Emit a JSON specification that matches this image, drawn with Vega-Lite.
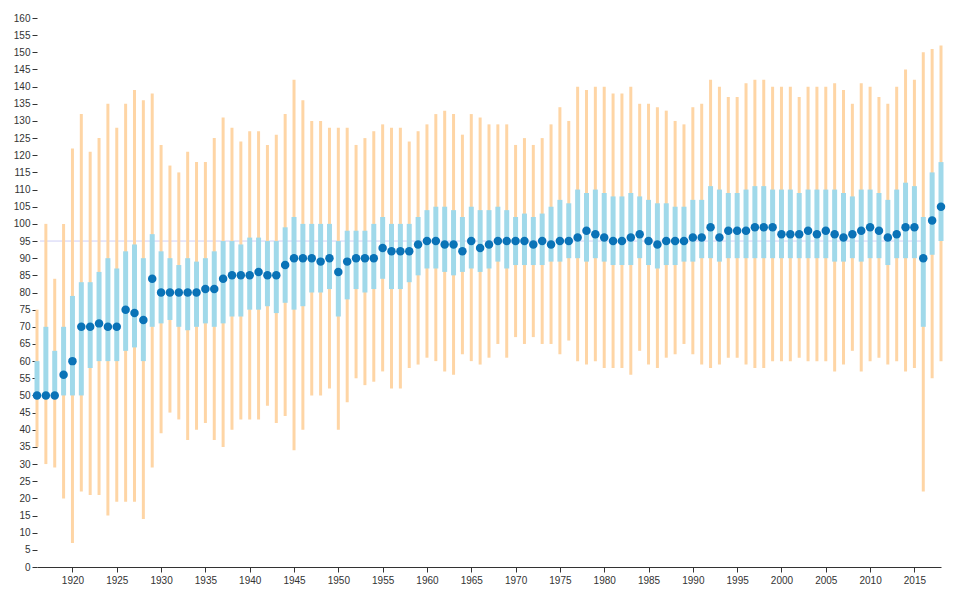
{
  "$schema": "https://vega.github.io/schema/vega-lite/v6.json",
  "width": 904,
  "height": 549,
  "autosize": "none",
  "padding": {"left": 37, "top": 18, "right": 21, "bottom": 39},
  "config": {
    "view": {"stroke": null},
    "axis": {
      "labelFont": "Liberation Sans",
      "labelFontSize": 10,
      "labelColor": "#333",
      "tickColor": "#333",
      "domainColor": "#333",
      "grid": false,
      "title": null
    }
  },
  "datasets": {
    "yearly": [
      {"year": 1916, "min": 35, "q1": 50, "median": 50, "q3": 60, "max": 75},
      {"year": 1917, "min": 30, "q1": 50, "median": 50, "q3": 70, "max": 100},
      {"year": 1918, "min": 29, "q1": 50, "median": 50, "q3": 63, "max": 84},
      {"year": 1919, "min": 20, "q1": 50, "median": 56, "q3": 70, "max": 100},
      {"year": 1920, "min": 7, "q1": 50, "median": 60, "q3": 79, "max": 122},
      {"year": 1921, "min": 22, "q1": 50, "median": 70, "q3": 83, "max": 132},
      {"year": 1922, "min": 21, "q1": 58, "median": 70, "q3": 83, "max": 121},
      {"year": 1923, "min": 21, "q1": 60, "median": 71, "q3": 86, "max": 125},
      {"year": 1924, "min": 15, "q1": 60, "median": 70, "q3": 90, "max": 135},
      {"year": 1925, "min": 19, "q1": 60, "median": 70, "q3": 87, "max": 128},
      {"year": 1926, "min": 19, "q1": 63, "median": 75, "q3": 92, "max": 135},
      {"year": 1927, "min": 19, "q1": 64, "median": 74, "q3": 94, "max": 139},
      {"year": 1928, "min": 14, "q1": 60, "median": 72, "q3": 90, "max": 136},
      {"year": 1929, "min": 29, "q1": 70, "median": 84, "q3": 97, "max": 138},
      {"year": 1930, "min": 39, "q1": 71, "median": 80, "q3": 92, "max": 123},
      {"year": 1931, "min": 45, "q1": 72, "median": 80, "q3": 90, "max": 117},
      {"year": 1932, "min": 43, "q1": 70, "median": 80, "q3": 88, "max": 115},
      {"year": 1933, "min": 37, "q1": 69, "median": 80, "q3": 90, "max": 121},
      {"year": 1934, "min": 40, "q1": 70, "median": 80, "q3": 89, "max": 118},
      {"year": 1935, "min": 42, "q1": 71, "median": 81, "q3": 90, "max": 118},
      {"year": 1936, "min": 37, "q1": 70, "median": 81, "q3": 92, "max": 125},
      {"year": 1937, "min": 35, "q1": 71, "median": 84, "q3": 95, "max": 131},
      {"year": 1938, "min": 40, "q1": 73, "median": 85, "q3": 95, "max": 128},
      {"year": 1939, "min": 43, "q1": 73, "median": 85, "q3": 94, "max": 124},
      {"year": 1940, "min": 43, "q1": 75, "median": 85, "q3": 96, "max": 127},
      {"year": 1941, "min": 43, "q1": 75, "median": 86, "q3": 96, "max": 127},
      {"year": 1942, "min": 47, "q1": 76, "median": 85, "q3": 95, "max": 123},
      {"year": 1943, "min": 42, "q1": 74, "median": 85, "q3": 95, "max": 126},
      {"year": 1944, "min": 44, "q1": 77, "median": 88, "q3": 99, "max": 132},
      {"year": 1945, "min": 34, "q1": 75, "median": 90, "q3": 102, "max": 142},
      {"year": 1946, "min": 40, "q1": 76, "median": 90, "q3": 100, "max": 136},
      {"year": 1947, "min": 50, "q1": 80, "median": 90, "q3": 100, "max": 130},
      {"year": 1948, "min": 50, "q1": 80, "median": 89, "q3": 100, "max": 130},
      {"year": 1949, "min": 52, "q1": 81, "median": 90, "q3": 100, "max": 128},
      {"year": 1950, "min": 40, "q1": 73, "median": 86, "q3": 95, "max": 128},
      {"year": 1951, "min": 48, "q1": 78, "median": 89, "q3": 98, "max": 128},
      {"year": 1952, "min": 55, "q1": 81, "median": 90, "q3": 98, "max": 123},
      {"year": 1953, "min": 53, "q1": 80, "median": 90, "q3": 98, "max": 125},
      {"year": 1954, "min": 54, "q1": 81, "median": 90, "q3": 100, "max": 127},
      {"year": 1955, "min": 57, "q1": 84, "median": 93, "q3": 102, "max": 129},
      {"year": 1956, "min": 52, "q1": 81, "median": 92, "q3": 100, "max": 128},
      {"year": 1957, "min": 52, "q1": 81, "median": 92, "q3": 100, "max": 128},
      {"year": 1958, "min": 58, "q1": 83, "median": 92, "q3": 100, "max": 124},
      {"year": 1959, "min": 59, "q1": 85, "median": 94, "q3": 102, "max": 127},
      {"year": 1960, "min": 61, "q1": 87, "median": 95, "q3": 104, "max": 129},
      {"year": 1961, "min": 60, "q1": 87, "median": 95, "q3": 105, "max": 132},
      {"year": 1962, "min": 57, "q1": 86, "median": 94, "q3": 105, "max": 133},
      {"year": 1963, "min": 56, "q1": 85, "median": 94, "q3": 104, "max": 132},
      {"year": 1964, "min": 62, "q1": 86, "median": 92, "q3": 102, "max": 126},
      {"year": 1965, "min": 60, "q1": 87, "median": 95, "q3": 105, "max": 132},
      {"year": 1966, "min": 59, "q1": 86, "median": 93, "q3": 104, "max": 131},
      {"year": 1967, "min": 61, "q1": 87, "median": 94, "q3": 104, "max": 129},
      {"year": 1968, "min": 65, "q1": 89, "median": 95, "q3": 105, "max": 129},
      {"year": 1969, "min": 61, "q1": 87, "median": 95, "q3": 104, "max": 129},
      {"year": 1970, "min": 67, "q1": 88, "median": 95, "q3": 102, "max": 123},
      {"year": 1971, "min": 65, "q1": 88, "median": 95, "q3": 103, "max": 125},
      {"year": 1972, "min": 67, "q1": 88, "median": 94, "q3": 102, "max": 123},
      {"year": 1973, "min": 65, "q1": 88, "median": 95, "q3": 103, "max": 125},
      {"year": 1974, "min": 65, "q1": 89, "median": 94, "q3": 105, "max": 129},
      {"year": 1975, "min": 62, "q1": 89, "median": 95, "q3": 107, "max": 134},
      {"year": 1976, "min": 66, "q1": 90, "median": 95, "q3": 106, "max": 130},
      {"year": 1977, "min": 60, "q1": 90, "median": 96, "q3": 110, "max": 140},
      {"year": 1978, "min": 59, "q1": 89, "median": 98, "q3": 109, "max": 139},
      {"year": 1979, "min": 60, "q1": 90, "median": 97, "q3": 110, "max": 140},
      {"year": 1980, "min": 58, "q1": 89, "median": 96, "q3": 109, "max": 140},
      {"year": 1981, "min": 58, "q1": 88, "median": 95, "q3": 108, "max": 138},
      {"year": 1982, "min": 58, "q1": 88, "median": 95, "q3": 108, "max": 138},
      {"year": 1983, "min": 56, "q1": 88, "median": 96, "q3": 109, "max": 140},
      {"year": 1984, "min": 63, "q1": 90, "median": 97, "q3": 108, "max": 135},
      {"year": 1985, "min": 59, "q1": 88, "median": 95, "q3": 107, "max": 135},
      {"year": 1986, "min": 58, "q1": 87, "median": 94, "q3": 106, "max": 134},
      {"year": 1987, "min": 61, "q1": 88, "median": 95, "q3": 106, "max": 133},
      {"year": 1988, "min": 62, "q1": 88, "median": 95, "q3": 105, "max": 130},
      {"year": 1989, "min": 65, "q1": 89, "median": 95, "q3": 105, "max": 129},
      {"year": 1990, "min": 62, "q1": 89, "median": 96, "q3": 107, "max": 134},
      {"year": 1991, "min": 59, "q1": 90, "median": 96, "q3": 107, "max": 135},
      {"year": 1992, "min": 58, "q1": 90, "median": 99, "q3": 111, "max": 142},
      {"year": 1993, "min": 59, "q1": 89, "median": 96, "q3": 110, "max": 140},
      {"year": 1994, "min": 61, "q1": 90, "median": 98, "q3": 109, "max": 137},
      {"year": 1995, "min": 61, "q1": 90, "median": 98, "q3": 109, "max": 137},
      {"year": 1996, "min": 59, "q1": 90, "median": 98, "q3": 110, "max": 141},
      {"year": 1997, "min": 58, "q1": 90, "median": 99, "q3": 111, "max": 142},
      {"year": 1998, "min": 58, "q1": 90, "median": 99, "q3": 111, "max": 142},
      {"year": 1999, "min": 60, "q1": 90, "median": 99, "q3": 110, "max": 140},
      {"year": 2000, "min": 60, "q1": 90, "median": 97, "q3": 110, "max": 140},
      {"year": 2001, "min": 60, "q1": 90, "median": 97, "q3": 110, "max": 140},
      {"year": 2002, "min": 61, "q1": 90, "median": 97, "q3": 109, "max": 137},
      {"year": 2003, "min": 60, "q1": 90, "median": 98, "q3": 110, "max": 140},
      {"year": 2004, "min": 60, "q1": 90, "median": 97, "q3": 110, "max": 140},
      {"year": 2005, "min": 60, "q1": 90, "median": 98, "q3": 110, "max": 140},
      {"year": 2006, "min": 57, "q1": 89, "median": 97, "q3": 110, "max": 141},
      {"year": 2007, "min": 59, "q1": 89, "median": 96, "q3": 109, "max": 139},
      {"year": 2008, "min": 63, "q1": 90, "median": 97, "q3": 108, "max": 135},
      {"year": 2009, "min": 57, "q1": 89, "median": 98, "q3": 110, "max": 141},
      {"year": 2010, "min": 60, "q1": 90, "median": 99, "q3": 110, "max": 140},
      {"year": 2011, "min": 61, "q1": 90, "median": 98, "q3": 109, "max": 137},
      {"year": 2012, "min": 59, "q1": 88, "median": 96, "q3": 107, "max": 135},
      {"year": 2013, "min": 60, "q1": 90, "median": 97, "q3": 110, "max": 140},
      {"year": 2014, "min": 57, "q1": 90, "median": 99, "q3": 112, "max": 145},
      {"year": 2015, "min": 58, "q1": 90, "median": 99, "q3": 111, "max": 142},
      {"year": 2016, "min": 22, "q1": 70, "median": 90, "q3": 102, "max": 150},
      {"year": 2017, "min": 55, "q1": 91, "median": 101, "q3": 115, "max": 151},
      {"year": 2018, "min": 60, "q1": 95, "median": 105, "q3": 118, "max": 152}
    ],
    "reference": [
      {"start": 1916, "end": 2016, "value": 95}
    ]
  },
  "layer": [
    {
      "data": {"name": "reference"},
      "mark": {"type": "rule", "color": "#cfcff5", "strokeWidth": 1, "xOffset": 3},
      "encoding": {
        "x": {"field": "start", "type": "quantitative"},
        "x2": {"field": "end"},
        "y": {"field": "value", "type": "quantitative"}
      }
    },
    {
      "data": {"name": "yearly"},
      "layer": [
        {
          "mark": {"type": "rule", "color": "#fed5a5", "strokeWidth": 3},
          "encoding": {
            "y": {"field": "min", "type": "quantitative"},
            "y2": {"field": "max"}
          }
        },
        {
          "mark": {"type": "rule", "color": "#a0d9ea", "strokeWidth": 5},
          "encoding": {
            "y": {"field": "q1", "type": "quantitative"},
            "y2": {"field": "q3"}
          }
        },
        {
          "mark": {"type": "point", "filled": true, "opacity": 1, "size": 72, "color": "#0a73b7"},
          "encoding": {
            "y": {"field": "median", "type": "quantitative"}
          }
        }
      ],
      "encoding": {
        "x": {"field": "year", "type": "quantitative"}
      }
    }
  ],
  "encoding": {
    "x": {
      "type": "quantitative",
      "scale": {"domain": [1916, 2018], "nice": false, "zero": false},
      "axis": {
        "values": [1920, 1925, 1930, 1935, 1940, 1945, 1950, 1955, 1960, 1965, 1970, 1975, 1980, 1985, 1990, 1995, 2000, 2005, 2010, 2015],
        "format": "d",
        "tickSize": 5,
        "labelPadding": 3
      }
    },
    "y": {
      "type": "quantitative",
      "scale": {"domain": [0, 160], "nice": false, "zero": true},
      "axis": {
        "values": [0, 5, 10, 15, 20, 25, 30, 35, 40, 45, 50, 55, 60, 65, 70, 75, 80, 85, 90, 95, 100, 105, 110, 115, 120, 125, 130, 135, 140, 145, 150, 155, 160],
        "domain": false,
        "tickSize": 5,
        "labelPadding": 2
      }
    }
  }
}
